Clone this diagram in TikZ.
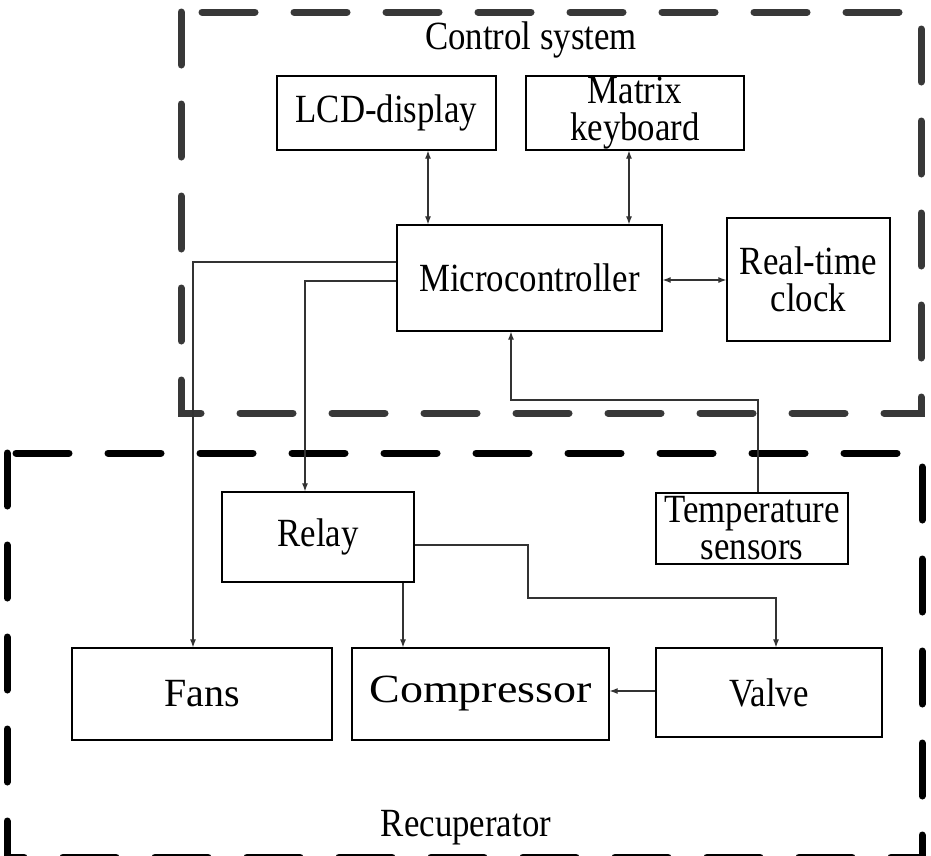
\documentclass[tikz,border=0pt]{standalone}
\usepackage{fontspec}
\setmainfont{Liberation Serif}
\newfontfamily\narrowserif[FakeStretch=0.87]{Liberation Serif}
\newfontfamily\wideserif[FakeStretch=1.15]{Liberation Serif}
\usetikzlibrary{arrows.meta,calc}
\definecolor{Frame}{HTML}{383838}
\tikzset{
 block/.style={draw=black, line width=1.3pt, fill=white, align=center, inner sep=0pt, font=\narrowserif\fontsize{40}{37}\selectfont},
 plainblock/.style={block, font=\rmfamily\fontsize{40}{37}\selectfont},
 wideblock/.style={block, font=\wideserif\fontsize{40}{37}\selectfont},
 arrow/.style={-{Latex[length=8pt,width=6pt]}, line width=1.1pt, draw=black!80},
 dblarrow/.style={{Latex[length=8pt,width=6pt]}-{Latex[length=8pt,width=6pt]}, line width=1.1pt, draw=black!80},
 frame/.style={line width=7pt, line cap=round, dash pattern=on 53pt off 39pt},
 caption/.style={font=\narrowserif\fontsize{40}{37}\selectfont}
}

\begin{document}
\begin{tikzpicture}[x=1pt,y=-1pt]
\useasboundingbox (0,0) rectangle (931,855);
% dashed frames
\draw[frame,draw=Frame] (181,12) rectangle (921,413);
\draw[frame,draw=black] (7,453) rectangle (922,857);
\node[caption] (ctl) at (531,40) {Control system};
\node[caption] (rec) at (466,828) {Recuperator};
% control part
\node[block,minimum width=219pt,minimum height=74pt] (lcd) at (386.5,113) {LCD-display};
\node[block,minimum width=218pt,minimum height=74pt] (keys) at (635,113) {Matrix\\keyboard};
\node[block,minimum width=265pt,minimum height=106pt] (mcu) at (529.5,278) {Microcontroller};
\node[block,minimum width=163pt,minimum height=123pt] (rtc) at (808.5,279.5) {Real-time\\clock};
\node[block,minimum width=192pt,minimum height=71pt] (temp) at (752,528.5) {Temperature\\sensors};
% recuperator part
\node[block,minimum width=192pt,minimum height=90pt] (relay) at (318,537) {Relay};
\node[plainblock,minimum width=260pt,minimum height=92pt] (fans) at (202,694) {Fans};
\node[wideblock,minimum width=257pt,minimum height=92pt] (comp) at (480.5,694) {Compressor};
\node[block,minimum width=226pt,minimum height=89pt] (valve) at (769,692.5) {Valve};
% links
\coordinate (tbend) at (511,400);
\coordinate (vturn) at (528,598);
\draw[dblarrow] (lcd.south -| 428,0) -- (mcu.north -| 428,0);
\draw[dblarrow] (keys.south -| 629,0) -- (mcu.north -| 629,0);
\draw[dblarrow] (mcu.east |- 0,280) -- (rtc.west |- 0,280);
\draw[arrow] (mcu.west |- 0,262) -| (fans.north -| 193,0);
\draw[arrow] (mcu.west |- 0,281) -| (relay.north -| 305,0);
\draw[arrow] (temp.north -| 758,0) |- (tbend) -- (mcu.south -| tbend);
\draw[arrow] (relay.east |- 0,545) -| (vturn) -| (valve.north -| 776,0);
\draw[arrow] (relay.south -| 403,0) -- (comp.north -| 403,0);
\draw[arrow] (valve.west |- 0,691) -- (comp.east |- 0,691);
\end{tikzpicture}
\end{document}
